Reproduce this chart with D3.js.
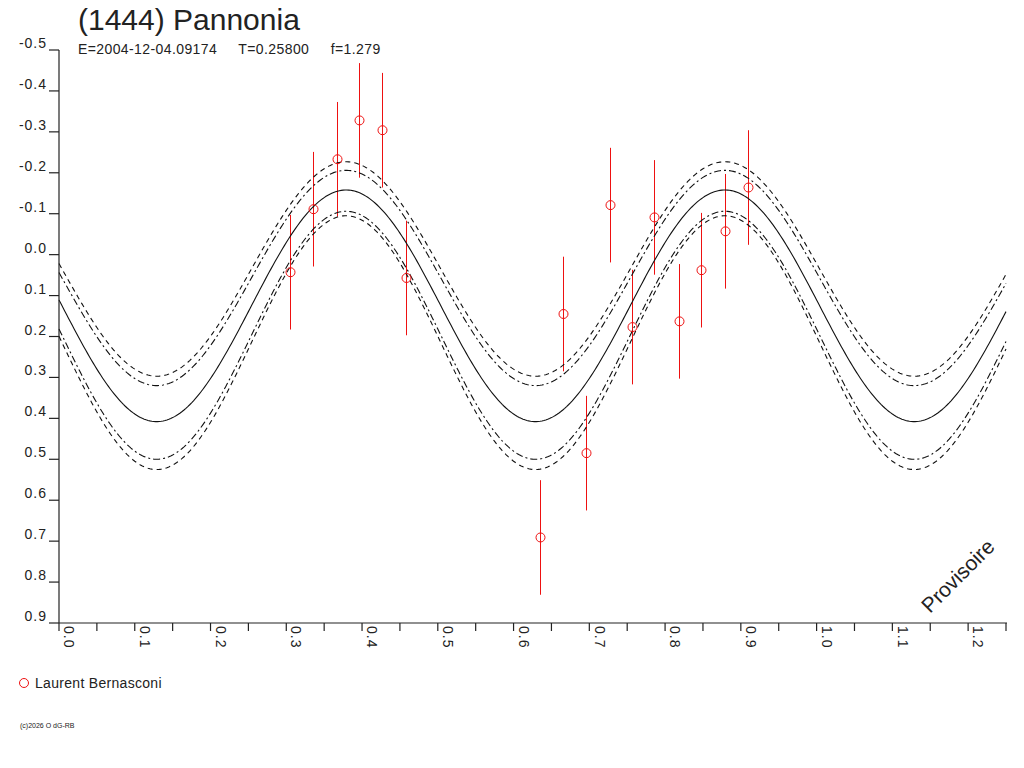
<!DOCTYPE html>
<html><head><meta charset="utf-8">
<script src="https://cdn.jsdelivr.net/npm/d3@7"></script>
<style>body{margin:0;background:#fff}text{font-family:"Liberation Sans",Arial,sans-serif;fill:#222}</style>
</head><body>
<svg id="chart" width="1024" height="768"></svg>
<script>
// observations: phase, reduced magnitude, error
const phases = [0.305,0.335,0.367,0.396,0.426,0.458,0.635,0.665,0.695,0.727,0.756,0.786,0.818,0.848,0.879,0.909];
const mags   = [0.043,-0.111,-0.233,-0.328,-0.304,0.057,0.691,0.145,0.485,-0.121,0.177,-0.091,0.163,0.038,-0.057,-0.164];
const errs   = [0.14,0.14,0.14,0.14,0.14,0.14,0.14,0.14,0.14,0.14,0.14,0.14,0.14,0.14,0.14,0.14];
// fitted model curves: mean, amplitude, phase of minimum, dash style
const curveMean  = [0.125, 0.035, 0.057, 0.197, 0.215];
const curveAmp   = [0.283, 0.262, 0.263, 0.303, 0.310];
const curvePhase = [0.129, 0.129, 0.129, 0.129, 0.129];
const curveDash  = [null, "5,4", "7,3,2,3", "7,3,2,3", "5,4"];
const yTicks = [-0.5,-0.4,-0.3,-0.2,-0.1,0.0,0.1,0.2,0.3,0.4,0.5,0.6,0.7,0.8,0.9];
const xTicks = [0,0.1,0.2,0.3,0.4,0.5,0.6,0.7,0.8,0.9,1.0,1.1,1.2];

const svg = d3.select('#chart');
const x = d3.scaleLinear().domain([0,1.25]).range([59,1006]);
const y = d3.scaleLinear().domain([-0.5,0.9]).range([50,623]);
const px = v => Math.round(x(v)) + 0.5;

// error bars
svg.append('g').selectAll('line').data(phases).join('line')
  .attr('x1',d=>px(d)).attr('x2',d=>px(d))
  .attr('y1',(d,i)=>y(mags[i]-errs[i])).attr('y2',(d,i)=>y(mags[i]+errs[i]))
  .attr('stroke','#ee1111').attr('stroke-width',1);

// curves
const xs = d3.range(0,1.2501,0.0025);
curveMean.forEach((m,k)=>{
  const line = d3.line().x(p=>x(p)).y(p=>y(m+curveAmp[k]*Math.cos(4*Math.PI*(p-curvePhase[k]))));
  svg.append('path').attr('d',line(xs)).attr('fill','none')
    .attr('stroke','#111').attr('stroke-width',1.1)
    .attr('stroke-dasharray',curveDash[k]);
});

// points
svg.append('g').selectAll('circle').data(phases).join('circle')
  .attr('cx',d=>px(d)).attr('cy',(d,i)=>y(mags[i])).attr('r',4.5)
  .attr('fill','none').attr('stroke','#ee1111').attr('stroke-width',1);

// axes
const axes = svg.append('g').attr('stroke','#222').attr('stroke-width',1.2);
axes.append('line').attr('x1',59).attr('x2',59).attr('y1',50).attr('y2',623);
axes.append('line').attr('x1',59).attr('x2',1007).attr('y1',623).attr('y2',623);
yTicks.forEach(t=>{
  axes.append('line').attr('x1',49).attr('x2',59).attr('y1',y(t)).attr('y2',y(t));
  svg.append('text').attr('x',47).attr('y',y(t)-2).attr('text-anchor','end')
    .attr('font-size',14).attr('letter-spacing',1).text(d3.format('.1f')(t).replace('−','-'));
});
d3.range(0,1.2501,0.05).forEach(t=>{
  axes.append('line').attr('x1',x(t)).attr('x2',x(t)).attr('y1',623).attr('y2',631);
});
xTicks.forEach(t=>{
  svg.append('text').attr('transform',`translate(${x(t)+1},626) rotate(90)`)
    .attr('font-size',14).attr('letter-spacing',1).attr('dy','-0.3em').text(d3.format('.1f')(t));
});

// titles
svg.append('text').attr('x',78).attr('y',30).attr('font-size',30).text('(1444) Pannonia');
svg.append('text').attr('x',78).attr('y',54).attr('font-size',14).attr('letter-spacing',0.4).attr('xml:space','preserve')
  .text('E=2004-12-04.09174     T=0.25800     f=1.279');
svg.append('text').attr('transform','translate(930,614) rotate(-45)').attr('font-size',21).text('Provisoire');

// legend
svg.append('circle').attr('cx',24).attr('cy',683).attr('r',4.5).attr('fill','none').attr('stroke','#ee1111');
svg.append('text').attr('x',35).attr('y',688).attr('font-size',14).attr('letter-spacing',0.3).text('Laurent Bernasconi');
svg.append('text').attr('x',20).attr('y',728).attr('font-size',7).text('(c)2026 O dG-RB');
</script>
</body></html>
